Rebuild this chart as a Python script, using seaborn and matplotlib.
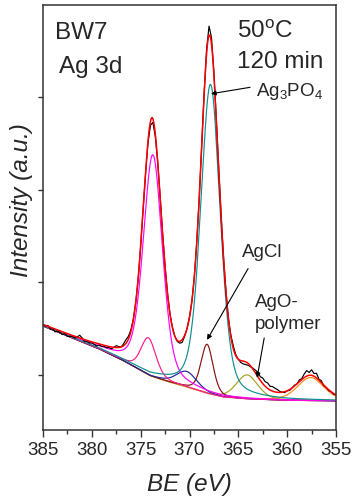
import numpy as np
import pandas as pd
import matplotlib
matplotlib.use("Agg")
import matplotlib.pyplot as plt
from matplotlib.ticker import MultipleLocator
import seaborn as sns

# ---- Ag 3d peak-fit components (sample BW7, 50 °C, 120 min) ----
comp_names = ["AgO-polymer sat.", "AgO-polymer 3d5/2", "AgCl 3d5/2", "AgO-polymer 3d3/2",
              "AgCl 3d3/2", "Ag3PO4 3d3/2", "Ag3PO4 3d5/2"]
comp_centres = [357.6, 364.1, 368.2, 370.3, 374.2, 373.75, 367.85]   # eV
comp_heights = [0.25, 0.26, 0.53, 0.17, 0.40, 2.40, 3.35]           # a.u. above background
comp_fwhm = [3.2, 2.6, 1.45, 2.5, 1.8, 2.3, 2.35]                    # eV
comp_colors = ["#ff8c1a", "#a3a324", "#8b1010", "#22229a", "#ff1a8c", "#ff00ff", "#0f8f8f"]
lorentz_frac = 0.35

# Background under the Ag 3d region
bg_be = [355.0, 360.0, 364.0, 366.5, 368.0, 370.0, 372.0, 374.0, 376.5, 379.0, 382.0, 385.0]
bg_level = [-0.28, -0.275, -0.26, -0.24, -0.205, -0.14, -0.08, -0.01, 0.14, 0.27, 0.40, 0.53]

# Measured spectrum, given as deviation from the fit envelope (385 -> 355 eV, 0.25 eV step)
residual = [
    0.00, -0.01, 0.01, -0.02,   -0.01, -0.03, -0.01, -0.02,
    -0.03, -0.01, -0.03, -0.02, -0.01, -0.02, 0.00, 0.03,
    0.01, -0.02, -0.01, -0.02,  -0.01, -0.02, -0.03, -0.01,
    -0.02, -0.01, -0.02, -0.01, -0.02, 0.00, 0.02, 0.01,
    0.00, 0.02, 0.04, 0.03,     0.02, 0.01, 0.00, -0.01,
    0.00, 0.00, -0.01, -0.02,   -0.04, -0.04, -0.03, 0.00,
    0.01, 0.00, 0.01, 0.00,     0.00, 0.01, 0.00, -0.01,
    -0.02, -0.03, -0.01, 0.00,  0.01, 0.00, 0.00, 0.01,
    0.00, 0.01, 0.02, 0.05,     0.10, 0.07, 0.03, 0.01,
    0.00, 0.00, 0.00, 0.01,     0.00, 0.02, 0.03, 0.01,
    0.00, -0.02, -0.03, -0.03,  -0.02, -0.01, 0.01, 0.03,
    0.05, 0.04, 0.06, 0.05,     0.06, 0.04, 0.05, 0.04,
    0.03, 0.01, 0.00, -0.01,    0.00, -0.01, 0.00, 0.01,
    0.00, 0.02, 0.01, 0.04,     0.06, 0.03, 0.06, 0.03,
    0.05, 0.01, 0.02, -0.01,    0.00, -0.01, 0.00, -0.01,
    0.00,
]

x_ticks = [385, 380, 375, 370, 365, 360, 355]


def background(be):
    return np.interp(be, bg_be, bg_level)


def pseudo_voigt(be, centre, height, fwhm, eta):
    u = (be - centre) / fwhm
    gauss = np.exp(-4.0 * np.log(2.0) * u ** 2)
    lorentz = 1.0 / (1.0 + 4.0 * u ** 2)
    return height * ((1.0 - eta) * gauss + eta * lorentz)


def envelope(be):
    total = background(be)
    for c, h, w in zip(comp_centres, comp_heights, comp_fwhm):
        total = total + pseudo_voigt(be, c, h, w, lorentz_frac)
    return total


be_fine = np.linspace(355.0, 385.0, 1501)
be_meas = np.linspace(385.0, 355.0, len(residual))

# long-form table of all fitted components
frames = []
for name, c, h, w in zip(comp_names, comp_centres, comp_heights, comp_fwhm):
    frames.append(pd.DataFrame({
        "BE": be_fine,
        "I": background(be_fine) + pseudo_voigt(be_fine, c, h, w, lorentz_frac),
        "component": name,
    }))
comps = pd.concat(frames, ignore_index=True)
fit_df = pd.DataFrame({"BE": be_fine, "I": envelope(be_fine)})
meas_df = pd.DataFrame({"BE": be_meas, "I": envelope(be_meas) + np.array(residual)})

sns.set_style("ticks")
plt.rcParams["font.family"] = ["Liberation Sans", "DejaVu Sans"]
plt.rcParams["mathtext.fontset"] = "custom"
plt.rcParams["mathtext.rm"] = "Liberation Sans"
plt.rcParams["mathtext.it"] = "Liberation Sans:italic"

fig = plt.figure(figsize=(3.56, 5.03), dpi=100)
ax = fig.add_axes([43 / 356, 1 - 430 / 503, 293 / 356, 425 / 503])

sns.lineplot(data=comps, x="BE", y="I", hue="component", hue_order=comp_names,
             palette=dict(zip(comp_names, comp_colors)), sort=False, estimator=None,
             lw=0.85, legend=False, ax=ax)
sns.lineplot(data=meas_df, x="BE", y="I", color="black", lw=0.85, sort=False,
             estimator=None, ax=ax)
sns.lineplot(data=fit_df, x="BE", y="I", color="#ff0000", lw=1.1, sort=False,
             estimator=None, ax=ax)

ax.set_xlim(385, 355)
ax.set_ylim(-0.595, 4.0)
ax.set_xticks(x_ticks)
ax.set_xticklabels([str(t) for t in x_ticks])
ax.xaxis.set_minor_locator(MultipleLocator(2.5))
ax.set_yticks([0, 1, 2, 3])
ax.set_yticklabels([])
ax.tick_params(axis="x", which="major", direction="out", length=5, width=1.0,
               labelsize=13.5, pad=3.5, color="#333333")
ax.tick_params(axis="x", which="minor", direction="out", length=3, width=1.0,
               color="#333333")
ax.tick_params(axis="y", which="major", direction="out", length=3.5, width=1.0,
               color="#333333")
for sp in ax.spines.values():
    sp.set_visible(True)
    sp.set_linewidth(1.1)
    sp.set_color("#333333")

ax.set_xlabel("BE (eV)", fontsize=17.5, style="italic", va="center")
ax.xaxis.set_label_coords(0.5, -0.129)
ax.set_ylabel("Intensity (a.u.)", fontsize=17.5, style="italic", va="center")
ax.yaxis.set_label_coords(-0.072, 0.541)

big = 17.5
small = 13.5
ax.text(0.041, 0.92, "BW7", transform=ax.transAxes, fontsize=big, va="baseline")
ax.text(0.055, 0.84, "Ag 3d", transform=ax.transAxes, fontsize=big, va="baseline")
ax.text(0.662, 0.922, r"50$^{\mathrm{o}}$C", transform=ax.transAxes, fontsize=big, va="baseline")
ax.text(0.662, 0.852, "120 min", transform=ax.transAxes, fontsize=big, va="baseline")
ax.text(0.727, 0.786, r"Ag$_3$PO$_4$", transform=ax.transAxes, fontsize=small, va="baseline")
ax.text(0.678, 0.408, "AgCl", transform=ax.transAxes, fontsize=small, va="baseline")
ax.text(0.724, 0.29, "AgO-", transform=ax.transAxes, fontsize=small, va="baseline")
ax.text(0.724, 0.238, "polymer", transform=ax.transAxes, fontsize=small, va="baseline")

arrow = dict(arrowstyle="-|>", color="black", lw=0.8, mutation_scale=7,
             shrinkA=0, shrinkB=0)
ax.annotate("", xy=(367.8, 3.04), xytext=(363.8, 3.11), arrowprops=arrow)
ax.annotate("", xy=(368.2, 0.38), xytext=(364.0, 1.15), arrowprops=arrow)
ax.annotate("", xy=(363.08, -0.03), xytext=(362.35, 0.40), arrowprops=arrow)

fig.savefig("out.png", dpi=100)
